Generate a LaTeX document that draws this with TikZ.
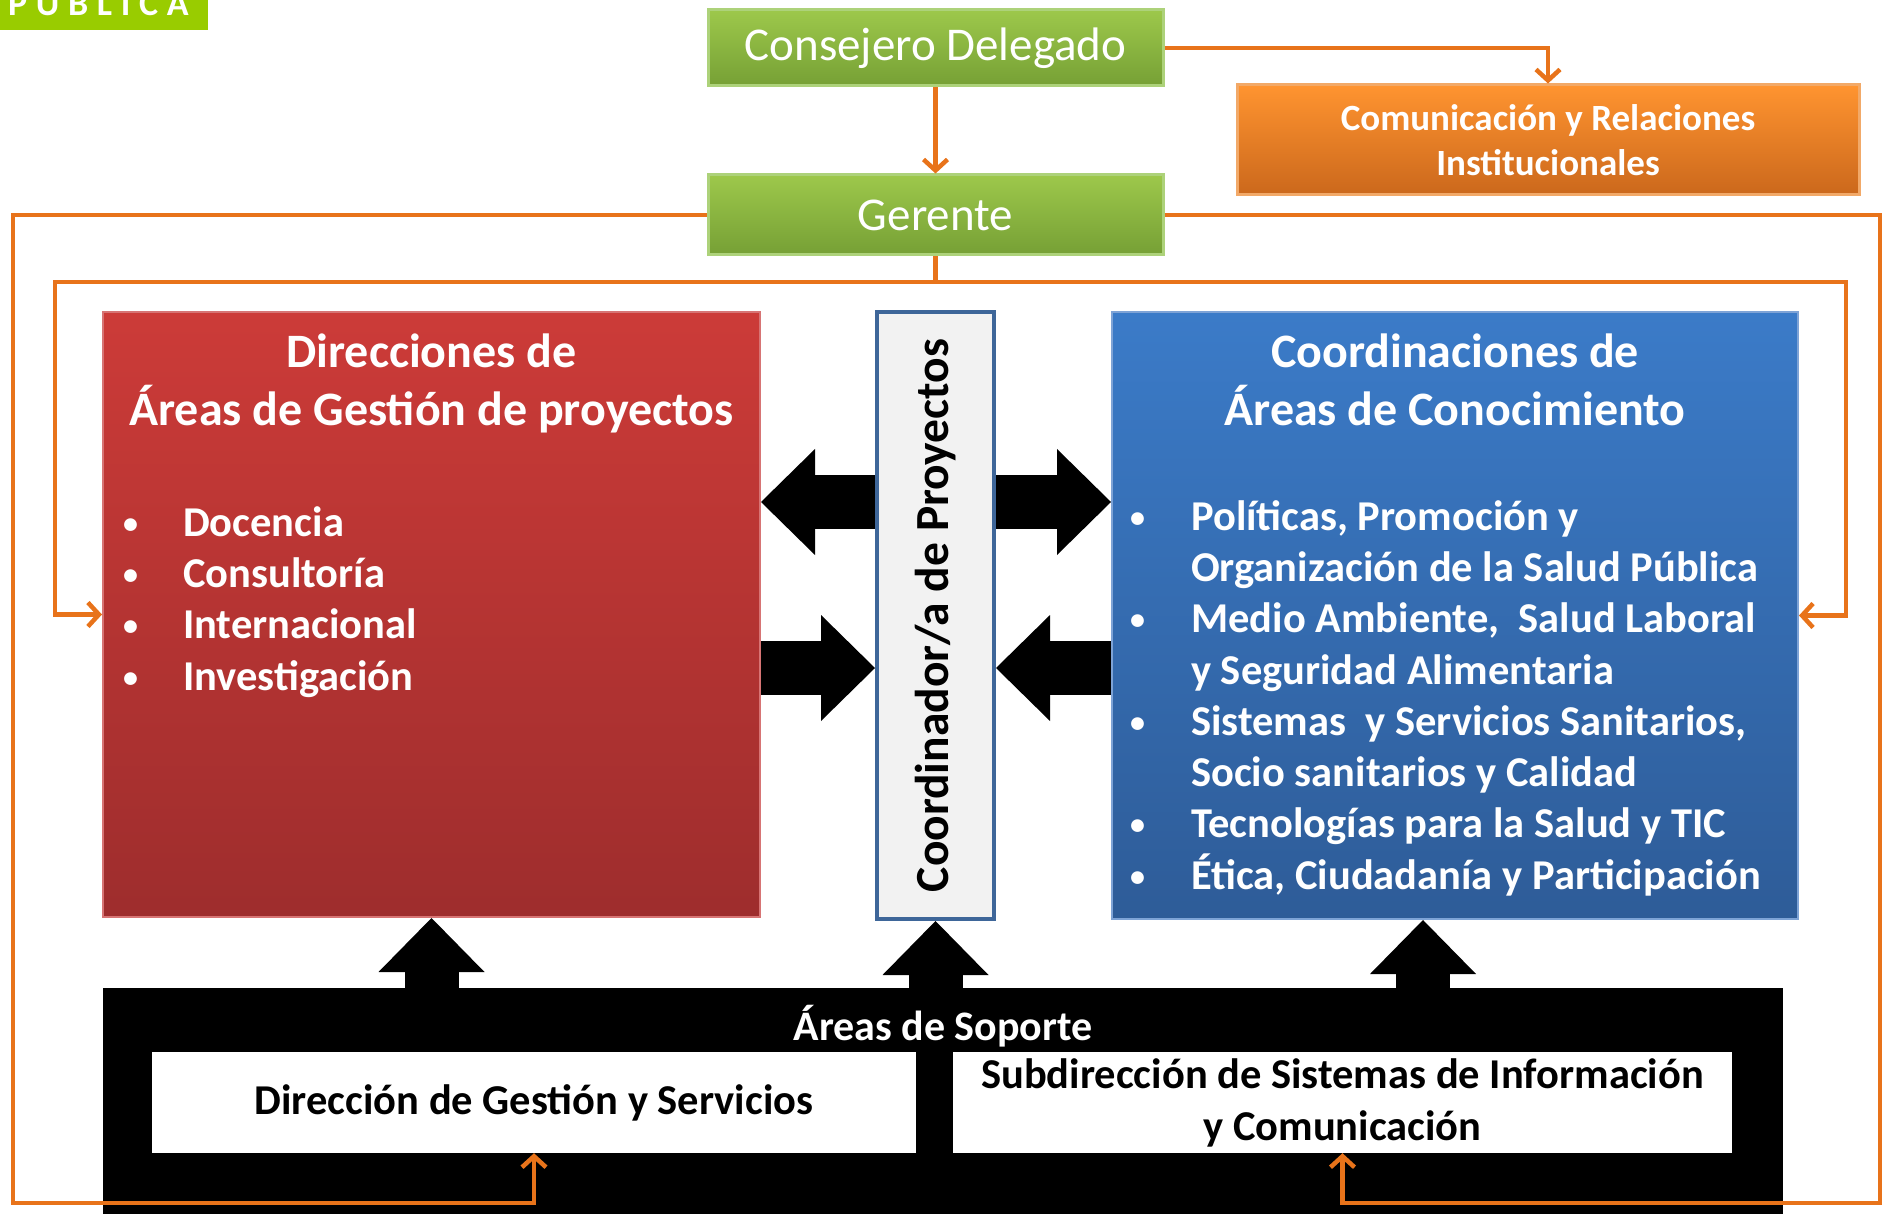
\documentclass[tikz,border=0pt]{standalone}
\usepackage{fontspec}
\setmainfont{Carlito}
\newfontfamily\tagfont[LetterSpace=24]{Carlito}
\usetikzlibrary{positioning,arrows.meta}

\definecolor{orgline}{HTML}{E8731A}
\definecolor{grntop}{HTML}{9DC84B}
\definecolor{grnbot}{HTML}{76A035}
\definecolor{grnedge}{HTML}{ADD27A}
\definecolor{orgtop}{HTML}{FF9430}
\definecolor{orgbot}{HTML}{CB681C}
\definecolor{orgedge}{HTML}{F2A968}
\definecolor{redtop}{HTML}{CC3B38}
\definecolor{redbot}{HTML}{9E2D2D}
\definecolor{rededge}{HTML}{D77474}
\definecolor{blutop}{HTML}{3B7BC8}
\definecolor{blubot}{HTML}{2E5C98}
\definecolor{bluedge}{HTML}{7EA3D6}
\definecolor{crdedge}{HTML}{3E6699}
\definecolor{taggreen}{HTML}{99CC00}

\newcommand{\dotb}{\raisebox{3pt}{\fontsize{30}{30}\selectfont\textbullet}}

\tikzset{
  box/.style={inner sep=0pt, align=center},
  mgr/.style={box, top color=grntop, bottom color=grnbot, draw=grnedge, line width=3pt,
    minimum width=455pt, text=white, font=\fontsize{47}{56}\selectfont},
  comm/.style={box, top color=orgtop, bottom color=orgbot, draw=orgedge, line width=3pt,
    minimum width=622pt, minimum height=110pt, text=white, font=\fontsize{37}{44.5}\selectfont\bfseries},
  area/.style={box, line width=2pt},
  coordbox/.style={box, fill=black!5, draw=crdedge, line width=4pt, minimum width=117pt, minimum height=607pt},
  heading/.style={box, text=white, font=\fontsize{48}{58}\selectfont\bfseries},
  items/.style={inner sep=0pt, anchor=north west, text=white, font=\fontsize{42.5}{51.3}\selectfont\bfseries},
  crdtext/.style={inner sep=0pt, font=\fontsize{47.5}{56}\selectfont\bfseries},
  support/.style={box, fill=black, minimum width=1680pt, minimum height=244pt},
  soptext/.style={inner sep=0pt, text=white, font=\fontsize{42}{52}\selectfont\bfseries},
  unitbox/.style={box, fill=white, minimum height=101pt, font=\fontsize{42.5}{52}\selectfont\bfseries},
  tagbox/.style={fill=taggreen, minimum width=208pt, minimum height=60pt, inner sep=0pt},
  tagtext/.style={inner sep=0pt, text=white, font=\tagfont\fontsize{36}{38}\selectfont\bfseries},
  link/.style={draw=orgline, line width=4.5pt, -{Straight Barb[length=11pt,width=24pt]}},
  fatarrow/.style={draw=black, line width=54pt, -{Triangle[length=54pt,width=106pt,line width=0pt]}}
}

\begin{document}
\begin{tikzpicture}[x=1pt,y=-1pt]
\useasboundingbox (0,0) rectangle (1883,1214);

\node[tagbox, anchor=south west] (tag) at (0,30) {};
\node[tagtext, anchor=base west] (tagt) at (8,16) {PÚBLICA};

\node[mgr, minimum height=76pt] (cd) at (935.5,48) {Consejero Delegado};
\node[mgr, minimum height=80pt, below=86pt of cd] (ger) {Gerente};
\node[comm] (com) at (1548,140) {Comunicación y Relaciones\\Institucionales};

\node[area, top color=redtop, bottom color=redbot, draw=rededge,
  minimum width=657pt, minimum height=605pt] (dir) at (431.5,614.5) {};
\node[coordbox] (crd) at (935.5,615.5) {};
\node[area, top color=blutop, bottom color=blubot, draw=bluedge,
  minimum width=686pt, minimum height=607pt] (coo) at (1455,615.5) {};

\node[heading, below=23pt of dir.north] (dirt) {Direcciones de\\Áreas de Gestión de proyectos};
\node[heading, below=23pt of coo.north] (coot) {Coordinaciones de\\Áreas de Conocimiento};
\node[items, below right=189pt and 21pt of dir.north west] (diri) {%
  \begin{tabular}{@{}p{60pt}@{}l@{}}
  \dotb & Docencia\\
  \dotb & Consultoría\\
  \dotb & Internacional\\
  \dotb & Investigación
  \end{tabular}};
\node[items, below right=183pt and 19pt of coo.north west] (cooi) {%
  \begin{tabular}{@{}p{61pt}@{}l@{}}
  \dotb & Políticas, Promoción y\\
        & Organización de la Salud Pública\\
  \dotb & Medio Ambiente,\ \ Salud Laboral\\
        & y Seguridad Alimentaria\\
  \dotb & Sistemas\ \ y Servicios Sanitarios,\\
        & Socio sanitarios y Calidad\\
  \dotb & Tecnologías para la Salud y TIC\\
  \dotb & Ética, Ciudadanía y Participación
  \end{tabular}};
\node[crdtext, rotate=90] (crdt) at (crd) {Coordinador/a de Proyectos};

\node[support] (sop) at (943,1110) {};
\node[soptext, below=17pt of sop.north] (sopt) {Áreas de Soporte};
\node[unitbox, minimum width=764pt] (dgs) at (534,1102.5) {Dirección de Gestión y Servicios};
\node[unitbox, minimum width=779pt] (ssi) at (1342.5,1102.5) {Subdirección de Sistemas de Información\\y Comunicación};

\coordinate (up) at (0,502);
\coordinate (lo) at (0,668);
\coordinate (cooa) at ([xshift=-32pt]coo.south);
\draw[fatarrow] (crd.west |- up) -- (dir.east |- up);
\draw[fatarrow] (dir.east |- lo) -- (crd.west |- lo);
\draw[fatarrow] (crd.east |- up) -- (coo.west |- up);
\draw[fatarrow] (coo.west |- lo) -- (crd.east |- lo);
\draw[fatarrow] (dir.south |- sop.north) -- (dir.south);
\draw[fatarrow] (crd.south |- sop.north) -- (crd.south);
\draw[fatarrow] (cooa |- sop.north) -- (cooa);

\coordinate (ll) at (13,1203);
\coordinate (rr) at (1880,1203);
\coordinate (il) at (55,282);
\coordinate (ir) at (1846,282);
\draw[link] (cd.east) -| (com.north);
\draw[link] (cd.south) -- (ger.north);
\draw[link] (ger.west) -| (ll) -| (dgs.south);
\draw[link] (ger.east) -| (rr) -| (ssi.south);
\draw[link] (ger.south) |- (il) |- (dir.west);
\draw[link] (ger.south) |- (ir) |- (coo.east);

\end{tikzpicture}
\end{document}
